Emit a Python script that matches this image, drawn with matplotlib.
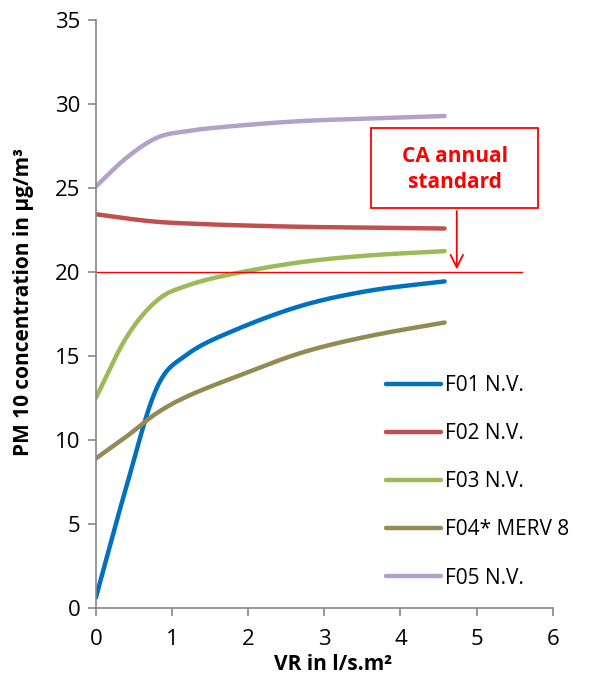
import numpy as np
import matplotlib
matplotlib.use("Agg")
import matplotlib.pyplot as plt
from matplotlib.patches import Rectangle

# Ventilation rate (l/s.m2) and PM10 concentration (ug/m3) per filter
vr = [0, 0.4, 0.8, 1.2, 1.8, 2.7, 3.6, 4.58]
f01 = [0.6, 7.2, 13.1, 15.1, 16.5, 18.0, 18.9, 19.45]
f02 = [23.45, 23.2, 23.0, 22.9, 22.8, 22.7, 22.65, 22.6]
f03 = [12.5, 16.1, 18.3, 19.2, 19.9, 20.6, 21.0, 21.25]
f04 = [8.9, 10.2, 11.6, 12.6, 13.7, 15.2, 16.2, 17.0]
f05 = [25.1, 26.8, 28.0, 28.4, 28.7, 29.0, 29.15, 29.3]

labels = ["F01 N.V.", "F02 N.V.", "F03 N.V.", "F04* MERV 8", "F05 N.V."]
colors = ["#0070C0", "#C0504D", "#9BBB59", "#948A54", "#B3A2C7"]
standard = 20.0
standard_xmax = 5.6
arrow_x = 4.74

x_ticks = [0, 1, 2, 3, 4, 5, 6]
y_ticks = [0, 5, 10, 15, 20, 25, 30, 35]


def smooth(x, y, n=20):
    """Catmull-Rom smoothed polyline through the given points."""
    x = np.asarray(x, float)
    y = np.asarray(y, float)
    px = np.concatenate([[2 * x[0] - x[1]], x, [2 * x[-1] - x[-2]]])
    py = np.concatenate([[2 * y[0] - y[1]], y, [2 * y[-1] - y[-2]]])
    xs, ys = [], []
    t = np.linspace(0, 1, n, endpoint=False)
    for i in range(1, len(px) - 2):
        for arr, out in ((px, xs), (py, ys)):
            p0, p1, p2, p3 = arr[i - 1], arr[i], arr[i + 1], arr[i + 2]
            out.extend(0.5 * (2 * p1 + (-p0 + p2) * t
                              + (2 * p0 - 5 * p1 + 4 * p2 - p3) * t ** 2
                              + (-p0 + 3 * p1 - 3 * p2 + p3) * t ** 3))
    xs.append(x[-1])
    ys.append(y[-1])
    return np.array(xs), np.array(ys)


plt.rcParams['font.family'] = ['Open Sans', 'DejaVu Sans']

fig = plt.figure(figsize=(5.95, 6.77), dpi=100)
ax = fig.add_axes([0.161, 0.102, 0.768, 0.868])

for series, lab, col in zip([f01, f02, f03, f04, f05], labels, colors):
    sx, sy = smooth(vr, series)
    ax.plot(sx, sy, color=col, lw=3.2, label=lab, solid_capstyle='round')

ax.plot([0, standard_xmax], [standard, standard], color="#FF0000", lw=1.0)

# Annotation box with arrow pointing at the standard line
box = Rectangle((3.62, 23.8), 2.19, 4.8, facecolor="white",
                edgecolor="#FF0000", lw=1.3, zorder=5)
ax.add_patch(box)
ax.text(3.62 + 2.19 / 2, 23.8 + 4.8 / 2 - 0.1, "CA annual\nstandard", color="#FF0000",
        fontsize=15, fontweight="bold", ha="center", va="center",
        linespacing=1.3, zorder=6)
ax.annotate("", xy=(arrow_x, standard), xytext=(arrow_x, 23.8),
            arrowprops=dict(arrowstyle="->,head_length=0.9,head_width=0.45",
                            color="#FF0000", lw=1.3), zorder=6)

ax.set_xlim(0, 6)
ax.set_ylim(0, 35)
ax.set_xticks(x_ticks)
ax.set_yticks(y_ticks)
for s in ["top", "right"]:
    ax.spines[s].set_visible(False)
for s in ["left", "bottom"]:
    ax.spines[s].set_color("#868686")
    ax.spines[s].set_linewidth(1.2)
ax.tick_params(axis="both", colors="#868686", labelcolor="black",
               labelsize=16, length=6, width=1.2)
ax.tick_params(axis="x", pad=9)
ax.tick_params(axis="y", pad=5)

ax.set_xlabel("VR in l/s.m²", fontsize=15, fontweight="bold")
ax.xaxis.set_label_coords(0.52, -0.078)
ax.set_ylabel("PM 10 concentration in µg/m³", fontsize=15, fontweight="bold")
ax.yaxis.set_label_coords(-0.135, 0.52)

ax.legend(loc="upper left", bbox_to_anchor=(0.595, 0.428), frameon=False,
          fontsize=15, handlelength=2.6, handletextpad=0.2, labelspacing=1.3)

fig.savefig("out.png", dpi=100)
